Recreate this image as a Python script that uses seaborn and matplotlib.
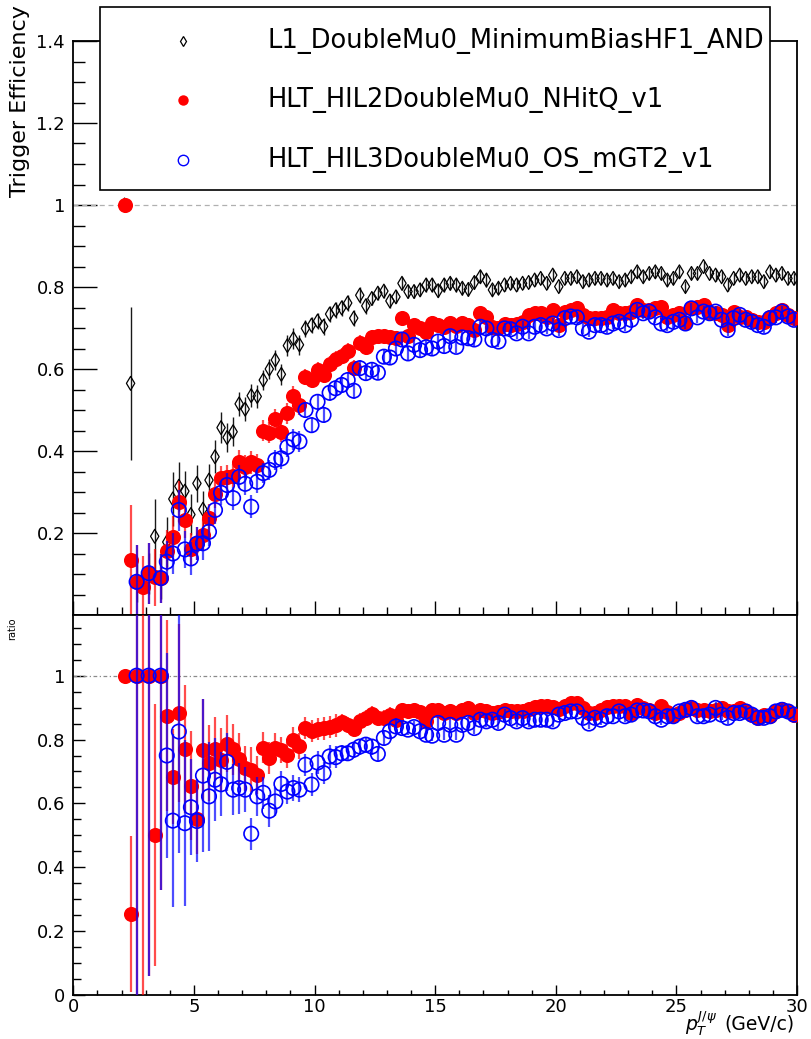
import numpy as np
import pandas as pd
import matplotlib
matplotlib.use("Agg")
import matplotlib.pyplot as plt
import seaborn as sns
from matplotlib.lines import Line2D
from matplotlib.patches import Rectangle
from matplotlib.ticker import MultipleLocator, FuncFormatter

nan = np.nan

# pT bins of 0.25 GeV/c from 2 to 30
pt_edges = np.arange(2.0, 30.01, 0.25)
pt = 0.5 * (pt_edges[:-1] + pt_edges[1:])

trig_names = ["L1_DoubleMu0_MinimumBiasHF1_AND",
              "HLT_HIL2DoubleMu0_NHitQ_v1",
              "HLT_HIL3DoubleMu0_OS_mGT2_v1"]

# efficiencies (upper pad)
eff_l1 = [1.0, 0.565, 0.081, nan, 0.102, 0.192, 0.090, 0.178, 0.283, 0.314,
          0.302, 0.245, 0.321, 0.258, 0.329, 0.386, 0.457, 0.433, 0.447, 0.515,
          0.502, 0.535, 0.533, 0.573, 0.600, 0.622, 0.587, 0.657, 0.674, 0.659,
          0.699, 0.707, 0.717, 0.704, 0.734, 0.744, 0.749, 0.761, 0.724, 0.780,
          0.754, 0.772, 0.785, 0.790, 0.766, 0.776, 0.809, 0.789, 0.789, 0.793,
          0.805, 0.805, 0.791, 0.805, 0.809, 0.805, 0.797, 0.794, 0.811, 0.825,
          0.817, 0.793, 0.797, 0.805, 0.809, 0.805, 0.809, 0.811, 0.817, 0.821,
          0.809, 0.829, 0.801, 0.821, 0.821, 0.825, 0.813, 0.817, 0.821, 0.821,
          0.817, 0.821, 0.813, 0.817, 0.825, 0.837, 0.825, 0.833, 0.837, 0.833,
          0.817, 0.821, 0.837, 0.801, 0.833, 0.833, 0.850, 0.833, 0.829, 0.825,
          0.805, 0.821, 0.829, 0.821, 0.825, 0.825, 0.813, 0.837, 0.829, 0.833,
          0.821, 0.821]
eff_l2 = [1.0, 0.134, 0.081, 0.069, 0.102, 0.092, 0.090, 0.157, 0.191, 0.276,
          0.232, 0.160, 0.175, 0.195, 0.236, 0.295, 0.333, 0.337, 0.340, 0.374,
          0.362, 0.372, 0.365, 0.450, 0.445, 0.478, 0.447, 0.492, 0.533, 0.512,
          0.581, 0.574, 0.598, 0.585, 0.612, 0.624, 0.632, 0.644, 0.602, 0.663,
          0.654, 0.679, 0.680, 0.680, 0.677, 0.675, 0.724, 0.680, 0.707, 0.699,
          0.691, 0.713, 0.707, 0.703, 0.713, 0.705, 0.713, 0.707, 0.695, 0.736,
          0.726, 0.702, 0.700, 0.709, 0.708, 0.710, 0.715, 0.732, 0.736, 0.736,
          0.728, 0.744, 0.707, 0.740, 0.744, 0.748, 0.732, 0.724, 0.724, 0.724,
          0.728, 0.744, 0.736, 0.736, 0.740, 0.756, 0.744, 0.744, 0.748, 0.752,
          0.728, 0.732, 0.736, 0.711, 0.748, 0.752, 0.756, 0.736, 0.736, 0.732,
          0.707, 0.740, 0.728, 0.728, 0.720, 0.715, 0.715, 0.728, 0.736, 0.744,
          0.732, 0.724]
eff_l3 = [nan, nan, 0.081, nan, 0.102, nan, 0.090, 0.130, 0.150, 0.256,
          0.160, 0.138, 0.174, 0.175, 0.203, 0.256, 0.298, 0.317, 0.285, 0.337,
          0.320, 0.264, 0.325, 0.346, 0.354, 0.378, 0.382, 0.410, 0.428, 0.423,
          0.500, 0.463, 0.520, 0.488, 0.542, 0.553, 0.561, 0.573, 0.547, 0.602,
          0.590, 0.598, 0.591, 0.630, 0.628, 0.650, 0.672, 0.638, 0.659, 0.646,
          0.653, 0.650, 0.667, 0.656, 0.680, 0.654, 0.677, 0.675, 0.672, 0.703,
          0.699, 0.671, 0.667, 0.699, 0.697, 0.687, 0.703, 0.687, 0.703, 0.707,
          0.699, 0.711, 0.695, 0.724, 0.728, 0.726, 0.699, 0.691, 0.707, 0.707,
          0.703, 0.711, 0.715, 0.707, 0.720, 0.744, 0.736, 0.740, 0.726, 0.711,
          0.707, 0.715, 0.720, 0.711, 0.748, 0.726, 0.740, 0.736, 0.740, 0.720,
          0.695, 0.724, 0.732, 0.720, 0.715, 0.707, 0.703, 0.724, 0.726, 0.740,
          0.728, 0.720]

err_l1 = ([0.0, 0.187, 0.05, nan, 0.05, 0.09, 0.05, 0.06, 0.065, 0.06,
           0.05, 0.05, 0.045, 0.045, 0.04, 0.04, 0.037, 0.035, 0.035, 0.03,
           0.03, 0.028, 0.028, 0.025, 0.025, 0.025, 0.025, 0.025, 0.025, 0.025]
          + [0.02] * 11 + [0.016] * 20 + [0.014] * 51)
err_l2 = ([0.0, 0.134, 0.09, 0.074, 0.074, 0.07, 0.06, 0.05, 0.05, 0.05,
           0.045, 0.04, 0.04, 0.04, 0.035, 0.035, 0.03, 0.03, 0.028, 0.028,
           0.028, 0.028, 0.028, 0.025, 0.025, 0.025, 0.025, 0.025, 0.025, 0.025]
          + [0.02] * 11 + [0.016] * 20 + [0.014] * 51)
err_l3 = ([nan, nan, 0.09, nan, 0.074, nan, 0.06, 0.05, 0.05, 0.05,
           0.045, 0.04, 0.04, 0.04, 0.035, 0.035, 0.03, 0.03, 0.028, 0.028,
           0.028, 0.028, 0.028, 0.025, 0.025, 0.025, 0.025, 0.025, 0.025, 0.025]
          + [0.02] * 11 + [0.016] * 20 + [0.014] * 51)

# ratios to L1 (lower pad)
ratio_l2 = [1.0, 0.253, 1.0, 1.4, 1.0, 0.500, 1.0, 0.875, 0.684, 0.883,
            0.770, 0.656, 0.552, 0.766, 0.726, 0.770, 0.735, 0.787, 0.770, 0.739,
            0.710, 0.706, 0.690, 0.775, 0.743, 0.775, 0.768, 0.752, 0.799, 0.779,
            0.836, 0.826, 0.834, 0.835, 0.840, 0.844, 0.854, 0.846, 0.833, 0.857,
            0.867, 0.881, 0.867, 0.867, 0.878, 0.862, 0.893, 0.888, 0.893, 0.885,
            0.857, 0.891, 0.893, 0.883, 0.888, 0.883, 0.893, 0.899, 0.883, 0.893,
            0.888, 0.883, 0.885, 0.893, 0.888, 0.888, 0.888, 0.895, 0.902, 0.904,
            0.904, 0.902, 0.895, 0.904, 0.914, 0.914, 0.899, 0.883, 0.883, 0.891,
            0.902, 0.904, 0.906, 0.904, 0.883, 0.909, 0.899, 0.893, 0.883, 0.904,
            0.885, 0.878, 0.883, 0.893, 0.899, 0.893, 0.893, 0.888, 0.893, 0.899,
            0.888, 0.888, 0.899, 0.888, 0.878, 0.868, 0.878, 0.873, 0.888, 0.895,
            0.888, 0.878]
ratio_l3 = [nan, nan, 1.0, nan, 1.0, nan, 1.0, 0.750, 0.546, 0.825,
            0.538, 0.588, 0.545, 0.687, 0.622, 0.674, 0.660, 0.730, 0.643, 0.648,
            0.643, 0.505, 0.622, 0.633, 0.577, 0.606, 0.661, 0.637, 0.648, 0.643,
            0.721, 0.659, 0.728, 0.695, 0.747, 0.745, 0.757, 0.757, 0.768, 0.778,
            0.784, 0.778, 0.755, 0.805, 0.826, 0.841, 0.836, 0.831, 0.839, 0.826,
            0.815, 0.812, 0.852, 0.815, 0.846, 0.815, 0.846, 0.852, 0.836, 0.862,
            0.857, 0.862, 0.852, 0.878, 0.867, 0.857, 0.867, 0.857, 0.862, 0.862,
            0.862, 0.857, 0.878, 0.883, 0.888, 0.888, 0.868, 0.850, 0.868, 0.862,
            0.873, 0.873, 0.888, 0.873, 0.878, 0.891, 0.891, 0.888, 0.873, 0.862,
            0.873, 0.873, 0.888, 0.893, 0.899, 0.873, 0.873, 0.878, 0.899, 0.878,
            0.868, 0.883, 0.883, 0.888, 0.878, 0.868, 0.868, 0.873, 0.888, 0.893,
            0.888, 0.878]

rerr_l2 = ([0.0, 0.245, 1.2, 1.4, 0.94, 0.41, 0.67, 0.3, 0.15, 0.28,
            0.2, 0.17, 0.11, 0.16, 0.12, 0.1, 0.1, 0.09, 0.08, 0.08,
            0.07, 0.07, 0.06, 0.05, 0.05, 0.045, 0.04, 0.04, 0.04, 0.04]
           + [0.035] * 6 + [0.025] * 10 + [0.018] * 66)
rerr_l3 = ([nan, nan, 1.2, nan, 0.94, nan, 0.67, 0.32, 0.27, 0.38,
            0.26, 0.15, 0.13, 0.24, 0.17, 0.13, 0.1, 0.09, 0.08, 0.08,
            0.07, 0.05, 0.06, 0.05, 0.05, 0.045, 0.04, 0.04, 0.04, 0.04]
           + [0.035] * 6 + [0.025] * 10 + [0.018] * 66)

sns.set_theme(style="ticks")
plt.rcParams["font.family"] = ["DejaVu Sans"]
plt.rcParams["mathtext.fontset"] = "dejavusans"
for key in ["text.color", "axes.labelcolor", "xtick.color", "ytick.color",
            "xtick.labelcolor", "ytick.labelcolor"]:
    plt.rcParams[key] = "black"

W, H = 812, 1039
fig = plt.figure(figsize=(W / 100, H / 100), dpi=100)
fig.patch.set_facecolor("white")

left, right = 73.3 / W, 797 / W
ax1 = fig.add_axes([left, 1 - 615 / H, right - left, (615 - 41) / H])
ax2 = fig.add_axes([left, 1 - 995 / H, right - left, (995 - 615) / H])


def draw(ax, y, err, color, marker, s, open_marker, ew, mlw, z):
    d = pd.DataFrame({"pt": pt, "y": y, "err": err}).dropna(subset=["y"])
    ax.errorbar(d["pt"], d["y"], yerr=d["err"].fillna(0), fmt="none",
                ecolor=color, elinewidth=ew, alpha=0.7 if color != "black" else 0.9,
                capsize=0, zorder=z)
    sns.scatterplot(data=d, x="pt", y="y", ax=ax, marker=marker, s=s,
                    color=color, edgecolor=color, linewidth=mlw,
                    legend=False, zorder=z + 1)
    coll = ax.collections[-1]
    if open_marker:
        coll.set_facecolor("none")
    coll.set_edgecolor(color)


ax1.axhline(1.0, color="#b0b0b0", ls=(0, (4, 3)), lw=0.9, zorder=1)
draw(ax1, eff_l1, err_l1, "black", "d", 50, True, 1.0, 0.9, 2)
draw(ax1, eff_l2, err_l2, "red", "o", 118, False, 1.6, 0.0, 4)
draw(ax1, eff_l3, err_l3, "blue", "o", 108, True, 1.6, 1.2, 6)

ax2.axhline(1.0, color="#8a8a8a", ls=(0, (3, 2, 1, 2)), lw=0.9, zorder=1)
draw(ax2, ratio_l2, rerr_l2, "red", "o", 118, False, 1.6, 0.0, 4)
draw(ax2, ratio_l3, rerr_l3, "blue", "o", 108, True, 1.6, 1.2, 6)

ax1.set_ylim(0, 1.4)
ax2.set_ylim(0, 1.19)
for ax in (ax1, ax2):
    ax.set_xlim(0, 30)
    ax.set_xlabel("")
    ax.set_ylabel("")
    ax.grid(False)
    ax.xaxis.set_major_locator(MultipleLocator(5))
    ax.xaxis.set_minor_locator(MultipleLocator(1))
    ax.yaxis.set_major_locator(MultipleLocator(0.2))
    ax.yaxis.set_minor_locator(MultipleLocator(0.05))
    ax.tick_params(which="both", direction="in", top=False, right=False,
                   color="black", width=1.0, labelsize=13, labelcolor="black")
    for sp in ax.spines.values():
        sp.set_visible(True)
        sp.set_color("black")
        sp.set_linewidth(1.3)

ax1.tick_params(axis="y", which="major", length=17, pad=6)
ax1.tick_params(axis="y", which="minor", length=8.5)
ax1.tick_params(axis="x", which="major", length=10, labelbottom=False)
ax1.tick_params(axis="x", which="minor", length=5.8)
ax1.yaxis.set_major_formatter(FuncFormatter(lambda v, p: f"{round(v, 2):g}" if v > 0.01 else ""))

ax2.tick_params(axis="y", which="major", length=8.6, pad=6)
ax2.tick_params(axis="y", which="minor", length=5.8)
ax2.tick_params(axis="x", which="major", length=7, pad=2)
ax2.tick_params(axis="x", which="minor", length=3.6)
ax2.yaxis.set_major_formatter(FuncFormatter(lambda v, p: f"{round(v, 2):g}"))
ax2.xaxis.set_major_formatter(FuncFormatter(lambda v, p: f"{v:g}"))

# axis titles
fig.text(20 / W, 1 - 5 / H, "Trigger Efficiency", rotation=90, ha="center",
         va="top", fontsize=16)
fig.text(12 / W, 1 - 617 / H, "ratio", rotation=90, ha="center", va="top",
         fontsize=7)
fig.text(795 / W, 1 - 1030 / H, "(GeV/c)", ha="right", va="baseline",
         fontsize=13.5)
fig.text(717 / W, 1 - 1030 / H, r"$p_{T}^{J/\psi}$", ha="right",
         va="baseline", fontsize=13.5)

# legend box
fig.add_artist(Rectangle((100 / W, 1 - 190 / H), 670 / W, 183 / H,
                         transform=fig.transFigure, facecolor="white",
                         edgecolor="black", lw=1.2, zorder=10))
rows = [41, 100, 160]
styles = [dict(marker="d", ms=5.5, mfc="none", mec="black", mew=0.9),
          dict(marker="o", ms=7.5, mfc="red", mec="red", mew=0),
          dict(marker="o", ms=7.5, mfc="none", mec="blue", mew=1.0)]
for name, ry, st in zip(trig_names, rows, styles):
    fig.add_artist(Line2D([183 / W], [1 - ry / H], transform=fig.transFigure,
                          ls="none", zorder=11, **st))
    fig.text(268 / W, 1 - ry / H, name, ha="left", va="center", fontsize=18.5,
             zorder=11)

fig.savefig("out.png", dpi=100)
